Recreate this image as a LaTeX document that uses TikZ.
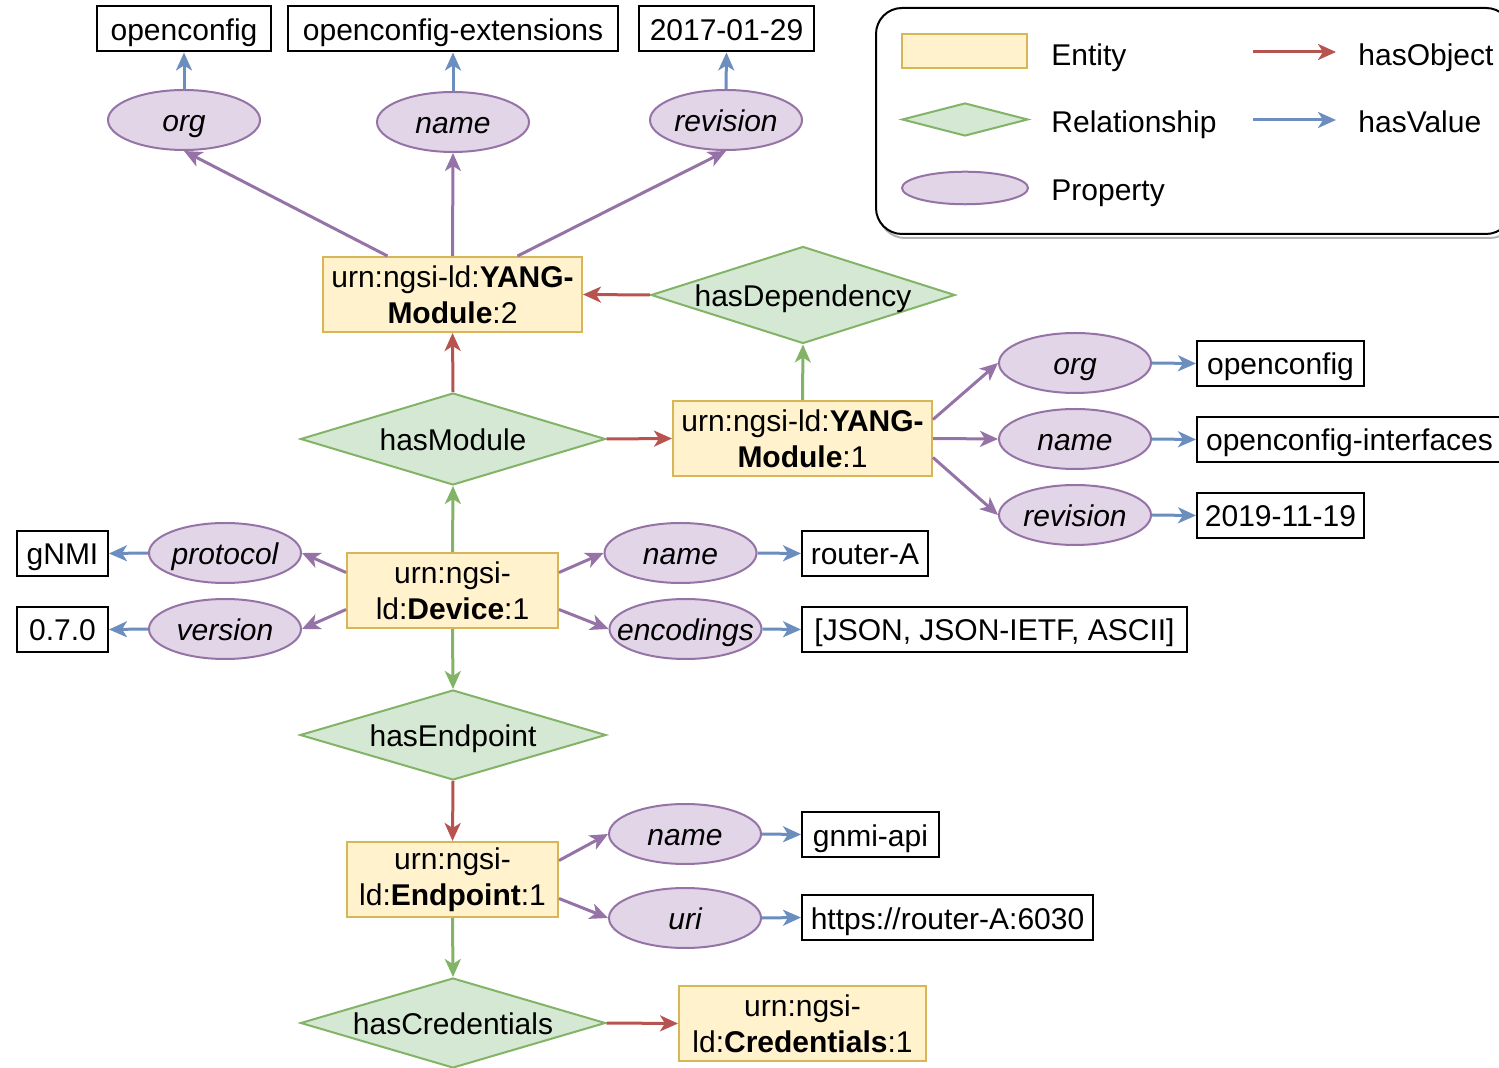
\documentclass[tikz,border=0pt]{standalone}
\usepackage{fontspec}
\setmainfont{Liberation Sans}
\usetikzlibrary{shapes.geometric,arrows.meta,calc}

\definecolor{entfill}{HTML}{FFF2CC}
\definecolor{entline}{HTML}{D6B656}
\definecolor{relfill}{HTML}{D5E8D4}
\definecolor{relline}{HTML}{82B366}
\definecolor{propfill}{HTML}{E1D5E7}
\definecolor{propline}{HTML}{9673A6}
\definecolor{objred}{HTML}{B85450}
\definecolor{valblue}{HTML}{6C8EBF}

\begin{document}
\begin{tikzpicture}[
  x=0.5pt, y=-0.5pt,
  font=\fontsize{15}{18}\selectfont,
  oneline/.style={text height=11.5pt, text depth=0pt},
  entity/.style={draw=entline, fill=entfill, line width=1pt, align=center,
    inner sep=0pt, minimum height=37.5pt},
  rel/.style={diamond, oneline, draw=relline, fill=relfill, line width=1pt, inner sep=0pt},
  prop/.style={ellipse, oneline, draw=propline, fill=propfill, line width=1pt, inner sep=0pt,
    minimum width=76pt, minimum height=30pt},
  val/.style={oneline, draw=black, line width=1pt, inner sep=0pt, minimum height=22.5pt},
  lbl/.style={oneline, anchor=west, inner sep=0pt},
  tip/.style={-{Stealth[length=9pt, width=8pt, inset=2.5pt]}},
  objarrow/.style={tip, draw=objred, line width=1.5pt},
  valarrow/.style={tip, draw=valblue, line width=1.5pt},
  proparrow/.style={tip, draw=propline, line width=1.5pt},
  relarrow/.style={tip, draw=relline, line width=1.5pt},
]
\useasboundingbox (0,0) rectangle (1499,1068);

% ---------- legend ----------
\draw[black!30, line width=1pt, rounded corners=13pt] (879,12) rectangle (1516,238);
\draw[black, line width=1pt, fill=white, rounded corners=13pt] (876,8) rectangle (1512,234);
\node[entity, minimum width=62.5pt, minimum height=17pt] (lgent) at (964.5,51) {};
\node[rel, minimum width=63pt, minimum height=16.5pt] (lgrel) at (965,119.5) {};
\node[prop, minimum width=63pt, minimum height=16pt] (lgprop) at (965,188) {};
\node[lbl] (lgenttxt) at (1051,54) {Entity};
\node[lbl] (lgreltxt) at (1051,121) {Relationship};
\node[lbl] (lgproptxt) at (1051,189) {Property};
\coordinate (lgobjA) at (1253,52);
\coordinate (lgobjB) at (1336,52);
\coordinate (lgvalA) at (1253,120);
\coordinate (lgvalB) at (1336,120);
\draw[objarrow] (lgobjA) -- (lgobjB);
\draw[valarrow] (lgvalA) -- (lgvalB);
\node[lbl] (lgobjtxt) at (1358,54) {hasObject};
\node[lbl] (lgvaltxt) at (1358,121) {hasValue};

% ---------- entities ----------
\node[entity, minimum width=129.5pt] (m2) at (452.5,294.5)
  {urn:ngsi-ld:\textbf{YANG-}\\\textbf{Module}:2};
\node[entity, minimum width=129.5pt] (m1) at (802.5,438.5)
  {urn:ngsi-ld:\textbf{YANG-}\\\textbf{Module}:1};
\node[entity, minimum width=105.5pt] (dev) at (452.5,590.5)
  {urn:ngsi-\\ld:\textbf{Device}:1};
\node[entity, minimum width=105.5pt] (ep) at (452.5,879.5)
  {urn:ngsi-\\ld:\textbf{Endpoint}:1};
\node[entity, minimum width=123.5pt] (cred) at (802.5,1023.5)
  {urn:ngsi-\\ld:\textbf{Credentials}:1};

% ---------- relationships ----------
\node[rel, minimum width=152pt, minimum height=48.5pt] (hdep) at (803,295)
  {\makebox[0pt]{hasDependency}};
\node[rel, minimum width=152.5pt, minimum height=46pt] (hmod) at (453,439)
  {\makebox[0pt]{hasModule}};
\node[rel, minimum width=153pt, minimum height=45pt] (hend) at (453,735)
  {\makebox[0pt]{hasEndpoint}};
\node[rel, minimum width=152.5pt, minimum height=45pt] (hcred) at (453,1023)
  {\makebox[0pt]{hasCredentials}};

% ---------- properties ----------
\node[prop] (m2org) at (184,120) {\makebox[0pt]{\itshape org}};
\node[prop] (m2name) at (453,122) {\makebox[0pt]{\itshape name}};
\node[prop] (m2rev) at (726,120) {\makebox[0pt]{\itshape revision}};
\node[prop] (m1org) at (1075,363) {\makebox[0pt]{\itshape org}};
\node[prop] (m1name) at (1075,439) {\makebox[0pt]{\itshape name}};
\node[prop] (m1rev) at (1075,515) {\makebox[0pt]{\itshape revision}};
\node[prop] (dproto) at (225,553) {\makebox[0pt]{\itshape protocol}};
\node[prop] (dver) at (225,629) {\makebox[0pt]{\itshape version}};
\node[prop] (dname) at (680.5,553) {\makebox[0pt]{\itshape name}};
\node[prop] (denc) at (685.5,629) {\makebox[0pt]{\itshape encodings}};
\node[prop] (ename) at (685,834) {\makebox[0pt]{\itshape name}};
\node[prop] (euri) at (685,918) {\makebox[0pt]{\itshape uri}};

% ---------- values ----------
\node[val, minimum width=87pt] (v2org) at (184,29) {openconfig};
\node[val, minimum width=165pt] (v2name) at (453,29) {openconfig-extensions};
\node[val, minimum width=87.5pt] (v2rev) at (726.5,29) {2017-01-29};
\node[val, minimum width=83.5pt] (v1org) at (1280.5,363.5) {openconfig};
\node[val, minimum width=152.5pt] (v1name) at (1349.5,439.5) {openconfig-interfaces};
\node[val, minimum width=83.5pt] (v1rev) at (1280.5,515.5) {2019-11-19};
\node[val, minimum width=45.5pt] (vproto) at (62.5,553.5) {gNMI};
\node[val, minimum width=45.5pt] (vver) at (62.5,629.5) {0.7.0};
\node[val, minimum width=63pt] (vdname) at (865,553.5) {router-A};
\node[val, minimum width=192.5pt] (venc) at (994.5,629.5) {[JSON, JSON-IETF, ASCII]};
\node[val, minimum width=68.5pt] (vename) at (870.5,834.5) {gnmi-api};
\node[val, minimum width=145.5pt] (veuri) at (947.5,917.5) {https://router-A:6030};

% ---------- hasObject ----------
\draw[objarrow] (hdep.west) -- (m2.east);
\draw[objarrow] (hmod.north) -- (m2.south);
\draw[objarrow] (hmod.east) -- (m1.west);
\draw[objarrow] (hend.south) -- (ep.north);
\draw[objarrow] (hcred.east) -- (cred.west);

% ---------- relationship links ----------
\draw[relarrow] (m1.north) -- (hdep.south);
\draw[relarrow] (dev.north) -- (hmod.south);
\draw[relarrow] (dev.south) -- (hend.north);
\draw[relarrow] (ep.south) -- (hcred.north);

% ---------- property links ----------
\draw[proparrow] ($(m2.north)+(-65,0)$) -- (m2org.south);
\draw[proparrow] (m2.north) -- (m2name.south);
\draw[proparrow] ($(m2.north)+(65,0)$) -- (m2rev.south);
\draw[proparrow] ($(m1.east)+(0,-19)$) -- (m1org.west);
\draw[proparrow] (m1.east) -- (m1name.west);
\draw[proparrow] ($(m1.east)+(0,19)$) -- (m1rev.west);
\draw[proparrow] ($(dev.west)+(0,-18)$) -- (dproto.east);
\draw[proparrow] ($(dev.west)+(0,19)$) -- (dver.east);
\draw[proparrow] ($(dev.east)+(0,-18)$) -- (dname.west);
\draw[proparrow] ($(dev.east)+(0,19)$) -- (denc.west);
\draw[proparrow] ($(ep.east)+(0,-19)$) -- (ename.west);
\draw[proparrow] ($(ep.east)+(0,19)$) -- (euri.west);

% ---------- hasValue ----------
\draw[valarrow] (m2org.north) -- (v2org.south);
\draw[valarrow] (m2name.north) -- (v2name.south);
\draw[valarrow] (m2rev.north) -- (v2rev.south);
\draw[valarrow] (m1org.east) -- (v1org.west);
\draw[valarrow] (m1name.east) -- (v1name.west);
\draw[valarrow] (m1rev.east) -- (v1rev.west);
\draw[valarrow] (dproto.west) -- (vproto.east);
\draw[valarrow] (dver.west) -- (vver.east);
\draw[valarrow] (dname.east) -- (vdname.west);
\draw[valarrow] (denc.east) -- (venc.west);
\draw[valarrow] (ename.east) -- (vename.west);
\draw[valarrow] (euri.east) -- (veuri.west);
\end{tikzpicture}
\end{document}
